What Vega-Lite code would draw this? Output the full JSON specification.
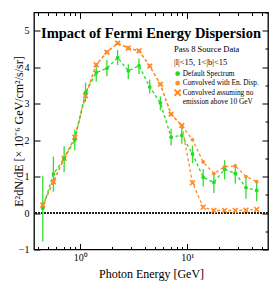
{
  "$schema": "https://vega.github.io/schema/vega-lite/v6.json",
  "width": 234,
  "height": 237,
  "autosize": {"type": "none"},
  "padding": {"left": 34, "top": 12.5, "right": 6, "bottom": 34},
  "title": {"text": "Impact of Fermi Energy Dispersion", "font": "Liberation Serif", "fontSize": 14.5, "fontWeight": "bold", "offset": -40, "baseline": "alphabetic", "anchor": "middle", "color": "black"},
  "config": {
    "font": "Liberation Serif",
    "view": {"stroke": "black", "strokeWidth": 1.3},
    "axis": {"domain": false, "grid": false, "tickColor": "black", "tickWidth": 1, "labelColor": "black", "titleColor": "black", "labelFont": "Liberation Serif", "titleFont": "Liberation Serif", "titleFontWeight": "normal"},
    "legend": {"orient": "none", "legendX": 140, "legendY": 32, "padding": 0, "labelFont": "Liberation Serif", "titleFont": "Liberation Serif", "labelColor": "black", "titleColor": "black", "titleFontSize": 8.5, "titleFontWeight": "normal", "titleLineHeight": 13, "titlePadding": 4, "labelFontSize": 7.3, "labelOffset": 1.5, "rowPadding": 1.5, "symbolSize": 22, "symbolStrokeWidth": 0, "labelLimit": 300}
  },
  "data": {"values": [
    {"E": 0.447, "series": "Convolved with En. Disp.", "v": 0.22},
    {"E": 0.562, "series": "Convolved with En. Disp.", "v": 0.86},
    {"E": 0.708, "series": "Convolved with En. Disp.", "v": 1.5},
    {"E": 0.891, "series": "Convolved with En. Disp.", "v": 2.08},
    {"E": 1.122, "series": "Convolved with En. Disp.", "v": 3.22},
    {"E": 1.413, "series": "Convolved with En. Disp.", "v": 4.07},
    {"E": 1.778, "series": "Convolved with En. Disp.", "v": 4.41},
    {"E": 2.239, "series": "Convolved with En. Disp.", "v": 4.66},
    {"E": 2.818, "series": "Convolved with En. Disp.", "v": 4.52},
    {"E": 3.548, "series": "Convolved with En. Disp.", "v": 4.45},
    {"E": 4.467, "series": "Convolved with En. Disp.", "v": 4.03},
    {"E": 5.623, "series": "Convolved with En. Disp.", "v": 3.53},
    {"E": 7.079, "series": "Convolved with En. Disp.", "v": 2.71},
    {"E": 8.913, "series": "Convolved with En. Disp.", "v": 2.4},
    {"E": 11.22, "series": "Convolved with En. Disp.", "v": 2.01},
    {"E": 14.13, "series": "Convolved with En. Disp.", "v": 1.4},
    {"E": 17.78, "series": "Convolved with En. Disp.", "v": 1.08},
    {"E": 22.39, "series": "Convolved with En. Disp.", "v": 1.27},
    {"E": 28.18, "series": "Convolved with En. Disp.", "v": 1.29},
    {"E": 35.48, "series": "Convolved with En. Disp.", "v": 1.0},
    {"E": 44.67, "series": "Convolved with En. Disp.", "v": 0.86},
    {"E": 0.447, "series": "Convolved assuming no emission above 10 GeV", "v": 0.22},
    {"E": 0.562, "series": "Convolved assuming no emission above 10 GeV", "v": 0.86},
    {"E": 0.708, "series": "Convolved assuming no emission above 10 GeV", "v": 1.5},
    {"E": 0.891, "series": "Convolved assuming no emission above 10 GeV", "v": 2.08},
    {"E": 1.122, "series": "Convolved assuming no emission above 10 GeV", "v": 3.22},
    {"E": 1.413, "series": "Convolved assuming no emission above 10 GeV", "v": 4.07},
    {"E": 1.778, "series": "Convolved assuming no emission above 10 GeV", "v": 4.41},
    {"E": 2.239, "series": "Convolved assuming no emission above 10 GeV", "v": 4.66},
    {"E": 2.818, "series": "Convolved assuming no emission above 10 GeV", "v": 4.52},
    {"E": 3.548, "series": "Convolved assuming no emission above 10 GeV", "v": 4.45},
    {"E": 4.467, "series": "Convolved assuming no emission above 10 GeV", "v": 4.03},
    {"E": 5.623, "series": "Convolved assuming no emission above 10 GeV", "v": 3.53},
    {"E": 7.079, "series": "Convolved assuming no emission above 10 GeV", "v": 2.71},
    {"E": 8.913, "series": "Convolved assuming no emission above 10 GeV", "v": 2.4},
    {"E": 11.22, "series": "Convolved assuming no emission above 10 GeV", "v": 0.83},
    {"E": 14.13, "series": "Convolved assuming no emission above 10 GeV", "v": 0.16},
    {"E": 17.78, "series": "Convolved assuming no emission above 10 GeV", "v": 0.07},
    {"E": 22.39, "series": "Convolved assuming no emission above 10 GeV", "v": 0.07},
    {"E": 28.18, "series": "Convolved assuming no emission above 10 GeV", "v": 0.07},
    {"E": 35.48, "series": "Convolved assuming no emission above 10 GeV", "v": 0.08},
    {"E": 44.67, "series": "Convolved assuming no emission above 10 GeV", "v": 0.1},
    {"E": 0.447, "series": "Default Spectrum", "v": 0.13, "lo": -0.78, "hi": 1.02},
    {"E": 0.562, "series": "Default Spectrum", "v": 1.07, "lo": 0.59, "hi": 1.55},
    {"E": 0.708, "series": "Default Spectrum", "v": 1.49, "lo": 1.12, "hi": 1.83},
    {"E": 0.891, "series": "Default Spectrum", "v": 2.01, "lo": 1.72, "hi": 2.29},
    {"E": 1.122, "series": "Default Spectrum", "v": 3.3, "lo": 3.05, "hi": 3.58},
    {"E": 1.413, "series": "Default Spectrum", "v": 3.85, "lo": 3.6, "hi": 4.1},
    {"E": 1.778, "series": "Default Spectrum", "v": 3.97, "lo": 3.75, "hi": 4.2},
    {"E": 2.239, "series": "Default Spectrum", "v": 4.26, "lo": 4.06, "hi": 4.47},
    {"E": 2.818, "series": "Default Spectrum", "v": 3.9, "lo": 3.67, "hi": 4.08},
    {"E": 3.548, "series": "Default Spectrum", "v": 4.04, "lo": 3.81, "hi": 4.24},
    {"E": 4.467, "series": "Default Spectrum", "v": 3.46, "lo": 3.28, "hi": 3.66},
    {"E": 5.623, "series": "Default Spectrum", "v": 3.02, "lo": 2.82, "hi": 3.2},
    {"E": 7.079, "series": "Default Spectrum", "v": 2.08, "lo": 1.85, "hi": 2.31},
    {"E": 8.913, "series": "Default Spectrum", "v": 2.13, "lo": 1.9, "hi": 2.36},
    {"E": 11.22, "series": "Default Spectrum", "v": 1.62, "lo": 1.37, "hi": 1.85},
    {"E": 14.13, "series": "Default Spectrum", "v": 0.98, "lo": 0.73, "hi": 1.21},
    {"E": 17.78, "series": "Default Spectrum", "v": 0.84, "lo": 0.55, "hi": 1.08},
    {"E": 22.39, "series": "Default Spectrum", "v": 1.2, "lo": 0.92, "hi": 1.45},
    {"E": 28.18, "series": "Default Spectrum", "v": 1.09, "lo": 0.81, "hi": 1.35},
    {"E": 35.48, "series": "Default Spectrum", "v": 0.7, "lo": 0.39, "hi": 1.0},
    {"E": 44.67, "series": "Default Spectrum", "v": 0.62, "lo": 0.32, "hi": 0.9}
  ]},
  "resolve": {"axis": {"x": "independent", "y": "independent"}},
  "layer": [
    {
      "mark": {"type": "rule", "color": "#222222", "strokeDash": [1.5, 1.5], "strokeWidth": 0.7},
      "encoding": {"y": {"datum": 0, "type": "quantitative", "axis": null}}
    },
    {
      "transform": [{"filter": "datum.series !== 'Default Spectrum'"}],
      "mark": {"type": "line", "color": "#ff8c2a", "strokeDash": [3, 2.5], "strokeWidth": 1.3},
      "encoding": {
        "x": {"field": "E", "type": "quantitative", "axis": null},
        "y": {"field": "v", "type": "quantitative", "axis": null},
        "detail": {"field": "series", "type": "nominal"}
      }
    },
    {
      "transform": [{"filter": "datum.series === 'Default Spectrum'"}],
      "mark": {"type": "line", "color": "#22dd22", "strokeDash": [3, 2.5], "strokeWidth": 1.3},
      "encoding": {
        "x": {"field": "E", "type": "quantitative", "axis": null},
        "y": {"field": "v", "type": "quantitative", "axis": null}
      }
    },
    {
      "transform": [{"filter": "datum.series === 'Default Spectrum'"}],
      "mark": {"type": "rule", "color": "#33dd33", "strokeWidth": 1.3},
      "encoding": {
        "x": {"field": "E", "type": "quantitative", "axis": {"orient": "top", "title": null, "labels": false, "values": [0.4, 0.5, 0.6, 0.7, 0.8, 0.9, 1, 2, 3, 4, 5, 6, 7, 8, 9, 10, 20, 30, 40, 50], "tickSize": {"condition": {"test": "datum.value === 1 || datum.value === 10", "value": -6}, "value": -3}}},
        "y": {"field": "lo", "type": "quantitative", "axis": {"orient": "right", "title": null, "labels": false, "values": [-1, -0.5, 0, 0.5, 1, 1.5, 2, 2.5, 3, 3.5, 4, 4.5, 5, 5.5], "tickSize": {"condition": {"test": "datum.value % 1 === 0", "value": -6}, "value": -3}}},
        "y2": {"field": "hi"}
      }
    },
    {
      "mark": {"type": "point", "filled": true, "opacity": 1, "size": 14},
      "encoding": {
        "x": {"field": "E", "type": "quantitative", "scale": {"type": "log", "domain": [0.37, 57], "nice": false},
          "axis": {"orient": "bottom", "title": "Photon Energy [GeV]", "titleFontSize": 12, "titlePadding": 6, "labelFontSize": 10, "labelPadding": 9, "values": [0.4, 0.5, 0.6, 0.7, 0.8, 0.9, 1, 2, 3, 4, 5, 6, 7, 8, 9, 10, 20, 30, 40, 50], "labelExpr": "datum.value === 1 ? '10⁰' : (datum.value === 10 ? '10¹' : '')", "tickSize": {"condition": {"test": "datum.value === 1 || datum.value === 10", "value": -6}, "value": -3}}},
        "y": {"field": "v", "type": "quantitative", "scale": {"domain": [-1, 5.5], "nice": false, "zero": false},
          "axis": {"orient": "left", "title": "E²dN/dE [× 10⁻⁶ GeV/cm²/s/sr]", "titleFontSize": 12, "titleX": -16, "titleBaseline": "middle", "labelFontSize": 10, "labelPadding": 11, "format": "d", "values": [-1, -0.5, 0, 0.5, 1, 1.5, 2, 2.5, 3, 3.5, 4, 4.5, 5, 5.5], "labelExpr": "datum.value % 1 === 0 ? datum.label : ''", "tickSize": {"condition": {"test": "datum.value % 1 === 0", "value": -6}, "value": -3}}},
        "color": {"field": "series", "type": "nominal", "title": ["Pass 8 Source Data", "|l|<15, 1<|b|<15"],
          "scale": {"domain": ["Default Spectrum", "Convolved with En. Disp.", "Convolved assuming no emission above 10 GeV"], "range": ["#22dd22", "#ff8c2a", "#ff8c2a"]},
          "legend": {"labelExpr": "datum.label === 'Convolved assuming no emission above 10 GeV' ? ['Convolved assuming no', 'emission above 10 GeV'] : datum.label"}},
        "shape": {"field": "series", "type": "nominal", "title": ["Pass 8 Source Data", "|l|<15, 1<|b|<15"],
          "scale": {"domain": ["Default Spectrum", "Convolved with En. Disp.", "Convolved assuming no emission above 10 GeV"], "range": ["circle", "circle", "M-1.6,-1L-1,-1.6L0,-0.6L1,-1.6L1.6,-1L0.6,0L1.6,1L1,1.6L0,0.6L-1,1.6L-1.6,1L-0.6,0Z"]},
          "legend": {"labelExpr": "datum.label === 'Convolved assuming no emission above 10 GeV' ? ['Convolved assuming no', 'emission above 10 GeV'] : datum.label"}}
      }
    }
  ]
}
